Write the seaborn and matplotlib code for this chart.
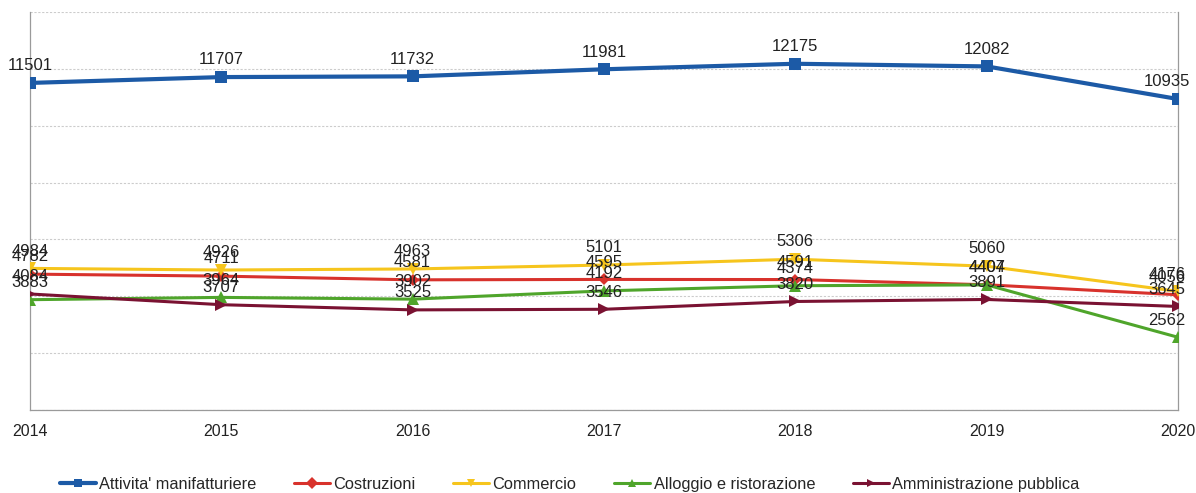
import matplotlib
matplotlib.use("Agg")
import matplotlib.pyplot as plt
from matplotlib.lines import Line2D
import seaborn as sns
import pandas as pd

years = [2014, 2015, 2016, 2017, 2018, 2019, 2020]
series_names = [
    "Attivita' manifatturiere",
    "Costruzioni",
    "Commercio",
    "Alloggio e ristorazione",
    "Amministrazione pubblica",
]
manifatturiere = [11501, 11707, 11732, 11981, 12175, 12082, 10935]
costruzioni = [4782, 4711, 4581, 4595, 4591, 4407, 4056]
commercio = [4984, 4926, 4963, 5101, 5306, 5060, 4176]
alloggio = [3883, 3964, 3902, 4192, 4374, 4404, 2562]
amministrazione = [4084, 3707, 3525, 3546, 3820, 3891, 3645]

values = [manifatturiere, costruzioni, commercio, alloggio, amministrazione]
colors = ["#1c5aa6", "#d8322c", "#f6c51d", "#4fa52b", "#7a1232"]
markers = ["s", "D", "v", "^", ">"]
msizes = [9, 6, 8, 8, 8]
lwidths = [3.0, 2.2, 2.2, 2.2, 2.2]

df = pd.DataFrame(
    [(y, name, v) for name, vals in zip(series_names, values) for y, v in zip(years, vals)],
    columns=["Anno", "Settore", "Valore"],
)

sns.set_theme(style="white")
plt.rcParams["font.family"] = ["Liberation Sans", "DejaVu Sans"]

fig = plt.figure(figsize=(11.96, 4.93), dpi=100)
ax = fig.add_axes([0.025, 0.168, 0.960, 0.808])

for name, col, mk, ms, lw in zip(series_names, colors, markers, msizes, lwidths):
    sub = df[df["Settore"] == name]
    sns.lineplot(data=sub, x="Anno", y="Valore", ax=ax, color=col, marker=mk,
                 markersize=ms, linewidth=lw, markeredgewidth=0, legend=False,
                 zorder=3)
    for x, y in zip(sub["Anno"], sub["Valore"]):
        dx = -8 if x == years[-1] else 0
        ax.annotate(f"{y}", (x, y), xytext=(dx, 7), textcoords="offset points",
                    ha="center", va="bottom", fontsize=12, color="#222222",
                    clip_on=False, zorder=5)

ax.set_xlim(2014, 2020)
ax.set_ylim(0, 14000)
ax.set_yticks(range(0, 14001, 2000))
ax.set_yticklabels([])
ax.tick_params(axis="y", length=0)
ax.set_xticks(years)
ax.set_xticklabels([str(y) for y in years], fontsize=11.5, color="#222222")
ax.tick_params(axis="x", length=6, width=0.8, color="#9a9a9a", pad=4, direction="out")
ax.grid(axis="y", color="#cccccc", linewidth=0.8, linestyle=(0, (2, 1.5)))
ax.set_xlabel("")
ax.set_ylabel("")
for side in ["left", "right", "bottom"]:
    ax.spines[side].set_color("#9a9a9a")
    ax.spines[side].set_linewidth(0.9)
ax.spines["top"].set_visible(False)

handles = [
    Line2D([0], [0], color=col, marker=mk, markersize=6, linewidth=lw,
           markeredgewidth=0)
    for col, mk, lw in zip(colors, markers, lwidths)
]
ax.legend(handles, series_names, loc="upper center", bbox_to_anchor=(0.47, -0.13),
          ncol=5, frameon=False, fontsize=11.8, handlelength=2.2,
          columnspacing=2.3, handletextpad=0.2)

fig.savefig("out.png", dpi=100, facecolor="white")
